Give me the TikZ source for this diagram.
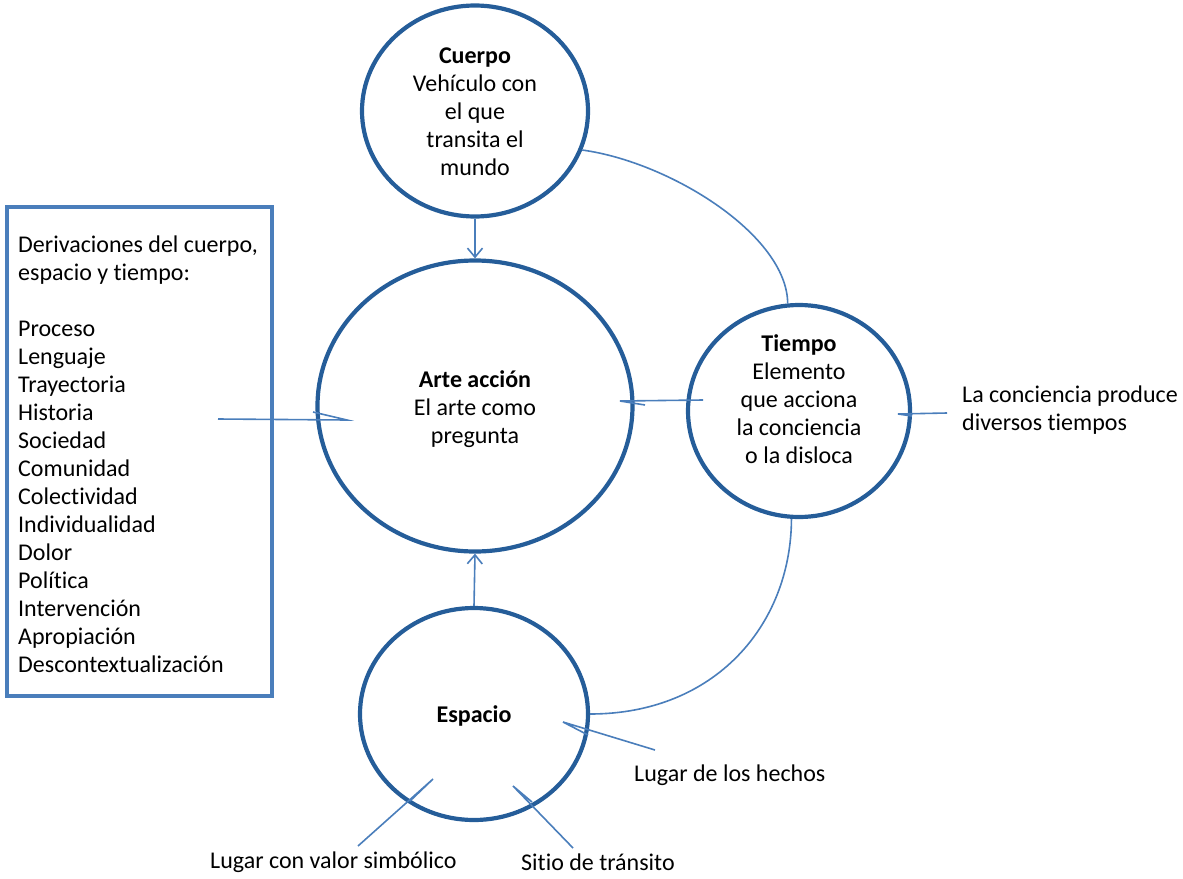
\documentclass[tikz,border=0pt]{standalone}
\usepackage{fontspec}
\setmainfont[Ligatures=NoCommon]{Carlito}
\usetikzlibrary{shapes.geometric,arrows.meta}
\definecolor{circ}{HTML}{255D99}
\definecolor{lnk}{HTML}{4A7EBB}
\tikzset{
  circ/.style={ellipse, draw=circ, line width=4.2pt, inner sep=0pt},
  txt/.style={font=\fontsize{24}{28}\selectfont, align=center, inner sep=0pt},
  ltxt/.style={font=\fontsize{24}{28}\selectfont, align=left, inner sep=0pt},
  link/.style={draw=lnk, line width=1.6pt},
  arr/.style={link, -{Straight Barb[length=9pt,width=15pt,line width=1.6pt]}},
}
\begin{document}
\begin{tikzpicture}[x=1pt,y=-1pt]
\useasboundingbox (0,0) rectangle (1183,878);
% circles
\node[circ, minimum width=226pt, minimum height=211pt] (cuerpo) at (475,111) {};
\node[circ, minimum width=315pt, minimum height=291pt] (arte) at (475,406) {};
\node[circ, minimum width=222pt, minimum height=212pt] (tiempo) at (799,411) {};
\node[circ, minimum width=228pt, minimum height=212pt] (espacio) at (474,714) {};
% texts in circles
\node[txt] (cuerpotxt) at (475,112) {\textbf{Cuerpo}\\Vehículo con\\el que\\transita el\\mundo};
\node[txt] (artetxt) at (475,409) {\textbf{Arte acción}\\El arte como\\pregunta};
\node[txt] (tiempotxt) at (799,399) {\textbf{Tiempo}\\Elemento\\que acciona\\la conciencia\\o la disloca};
\node[txt] (espaciotxt) at (474,716) {\textbf{Espacio}};
% box
\node[draw=lnk, line width=4pt, minimum width=265pt, minimum height=489pt, inner sep=0pt] (box) at (139.5,451.5) {};
\node[ltxt, anchor=west] (boxtxt) at (18,454) {Derivaciones del cuerpo,\\espacio y tiempo:\\[28pt]Proceso\\Lenguaje\\Trayectoria\\Historia\\Sociedad\\Comunidad\\Colectividad\\Individualidad\\Dolor\\Política\\Intervención\\Apropiación\\Descontextualización};
% outside labels
\node[ltxt, anchor=west] (conc) at (962,410) {La conciencia produce\\diversos tiempos};
\node[ltxt, anchor=west] (hechos) at (634,775) {Lugar de los hechos};
\node[ltxt, anchor=west] (simb) at (210,862) {Lugar con valor simbólico};
\node[ltxt, anchor=west] (sitio) at (521,862) {Sitio de tránsito};
% arrows
\draw[arr] (cuerpo.south) -- (arte.north);
\draw[arr] (espacio.north) -- (arte.south);
% curved connectors
\draw[link] (cuerpo.-20) .. controls (670,162) and (787,235) .. (tiempo.96);
\draw[link] (tiempo.-94) .. controls (791,625) and (715,714) .. (espacio.0);
% callouts
\coordinate (c1s) at (218,419); \coordinate (c1t) at (347,420); \coordinate (c1b) at (313,412);
\draw[link] (c1s) -- (c1t) -- (c1b);
\coordinate (c2s) at (703,400); \coordinate (c2t) at (620,401); \coordinate (c2b) at (645,405);
\draw[link] (c2s) -- (c2t) -- (c2b);
\coordinate (c3s) at (947,413); \coordinate (c3t) at (898,414); \coordinate (c3b) at (912,416);
\draw[link] (c3s) -- (c3t) -- (c3b);
\coordinate (c4s) at (655,750); \coordinate (c4t) at (563,722); \coordinate (c4b) at (588,735);
\draw[link] (c4s) -- (c4t) -- (c4b);
\coordinate (c5s) at (358,846); \coordinate (c5t) at (433,779); \coordinate (c5b) at (410,801);
\draw[link] (c5s) -- (c5t) -- (c5b);
\coordinate (c6s) at (573,848); \coordinate (c6t) at (513,786); \coordinate (c6b) at (532,802);
\draw[link] (c6s) -- (c6t) -- (c6b);
\end{tikzpicture}
\end{document}
